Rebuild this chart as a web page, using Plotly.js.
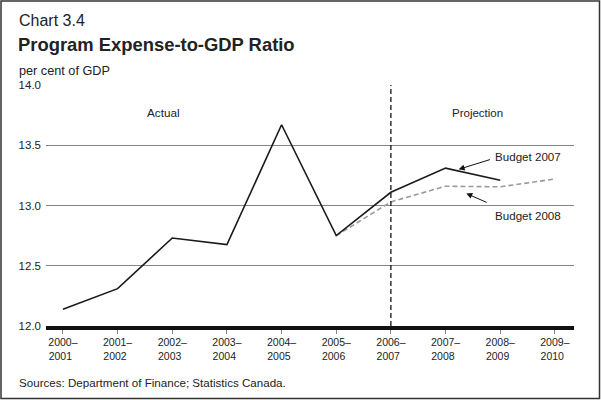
<!DOCTYPE html>
<html>
<head>
<meta charset="utf-8">
<script src="https://cdn.plot.ly/plotly-3.0.1.min.js"></script>
<style>
html,body{margin:0;padding:0;background:#fff;}
#chart{width:601px;height:400px;}
</style>
</head>
<body>
<div id="chart"></div>
<script>
const categories = ["2000–2001","2001–2002","2002–2003","2003–2004","2004–2005","2005–2006","2006–2007","2007–2008","2008–2009","2009–2010"];
const tickLabels = ["2000–<br>2001\u2002","2001–<br>2002\u2002","2002–<br>2003\u2002","2003–<br>2004\u2002","2004–<br>2005\u2002","2005–<br>2006\u2002","2006–<br>2007\u2002","2007–<br>2008\u2002","2008–<br>2009\u2002","2009–<br>2010\u2002"];
const budget2007 = [12.14, 12.31, 12.73, 12.675, 13.67, 12.75, 13.11, 13.31, 13.21, null];
const budget2008 = [null, null, null, null, null, 12.75, 13.03, 13.16, 13.155, 13.22];

const L = 46, R = 574, T = 85, B = 326;
const W = R - L, H = B - T;
const px = x => (x - L) / W;
const py = y => (B - y) / H;
const font = "Liberation Sans, Arial, Helvetica, sans-serif";
const txt = "#222";

const traces = [
  {x: categories, y: budget2008, type: "scatter", mode: "lines",
   line: {color: "#9a9a9a", width: 1.6, dash: "5px,3px"}, connectgaps: false, hoverinfo: "skip"},
  {x: categories, y: budget2007, type: "scatter", mode: "lines",
   line: {color: "#1a1a1a", width: 1.6}, connectgaps: false, hoverinfo: "skip"}
];

const layout = {
  width: 601, height: 400,
  margin: {l: L, r: 601 - R, t: T, b: 400 - B},
  paper_bgcolor: "#fff", plot_bgcolor: "#fff",
  showlegend: false,
  font: {family: font, color: txt, size: 11},
  xaxis: {
    type: "category", range: [-0.31, 9.35],
    tickvals: categories, ticktext: tickLabels,
    showgrid: false, zeroline: false,
    showline: true, linecolor: "#111", linewidth: 3.5,
    ticks: "outside", ticklen: 4, tickcolor: "#888", tickwidth: 1,
    tickfont: {family: font, size: 10.5, color: txt}, fixedrange: true
  },
  yaxis: {
    range: [12, 14], tickvals: [12, 12.5, 13, 13.5, 14],
    ticktext: ["12.0", "12.5", "13.0", "13.5", "14.0"],
    showgrid: true, gridcolor: "#858585", gridwidth: 1,
    zeroline: false, showline: false, ticks: "", ticklen: 0,
    ticklabelstandoff: 4,
    tickfont: {family: font, size: 11.5, color: txt}, fixedrange: true
  },
  shapes: [
    {type: "line", xref: "x", yref: "y", x0: 6, x1: 6, y0: 12, y1: 14,
     line: {color: "#000", width: 1.2, dash: "5px,3px"}},
    {type: "rect", xref: "paper", yref: "paper",
     x0: px(1), x1: px(599.5), y0: py(1), y1: py(398.5),
     line: {color: "#333", width: 1.5}, fillcolor: "rgba(0,0,0,0)", layer: "above"}
  ],
  annotations: [
    {xref: "paper", yref: "paper", x: px(17), y: py(20), xanchor: "left", yanchor: "middle",
     text: "Chart 3.4", showarrow: false, font: {family: font, size: 16, color: txt}},
    {xref: "paper", yref: "paper", x: px(16), y: py(45), xanchor: "left", yanchor: "middle",
     text: "<b>Program Expense-to-GDP Ratio</b>", showarrow: false, font: {family: font, size: 18.4, color: txt}},
    {xref: "paper", yref: "paper", x: px(17), y: py(71), xanchor: "left", yanchor: "middle",
     text: "per cent of GDP", showarrow: false, font: {family: font, size: 12.7, color: txt}},
    {xref: "paper", yref: "paper", x: px(17), y: py(382.5), xanchor: "left", yanchor: "middle",
     text: "Sources: Department of Finance; Statistics Canada.", showarrow: false, font: {family: font, size: 11.6, color: txt}},
    {xref: "x", yref: "y", x: 1.83, y: 13.77, text: "Actual", showarrow: false,
     font: {family: font, size: 11.7, color: txt}},
    {xref: "x", yref: "y", x: 7.59, y: 13.77, text: "Projection", showarrow: false,
     font: {family: font, size: 11.5, color: txt}},
    {xref: "x", yref: "y", x: 7.86, y: 13.41, xanchor: "left", yanchor: "middle",
     text: "Budget 2007", showarrow: false, font: {family: font, size: 11.6, color: txt}},
    {xref: "x", yref: "y", x: 7.86, y: 12.92, xanchor: "left", yanchor: "middle",
     text: "Budget 2008", showarrow: false, font: {family: font, size: 11.6, color: txt}},
    {xref: "x", yref: "y", x: 7.24, y: 13.30, axref: "x", ayref: "y", ax: 7.84, ay: 13.385,
     text: "", showarrow: true, arrowhead: 2, arrowsize: 1.2, arrowwidth: 1, arrowcolor: "#111", standoff: 0, startstandoff: 0},
    {xref: "x", yref: "y", x: 7.38, y: 13.10, axref: "x", ayref: "y", ax: 7.78, ay: 13.02,
     text: "", showarrow: true, arrowhead: 2, arrowsize: 1.2, arrowwidth: 1, arrowcolor: "#111", standoff: 0, startstandoff: 0}
  ]
};

Plotly.newPlot("chart", traces, layout, {staticPlot: true, displayModeBar: false});
</script>
</body>
</html>
